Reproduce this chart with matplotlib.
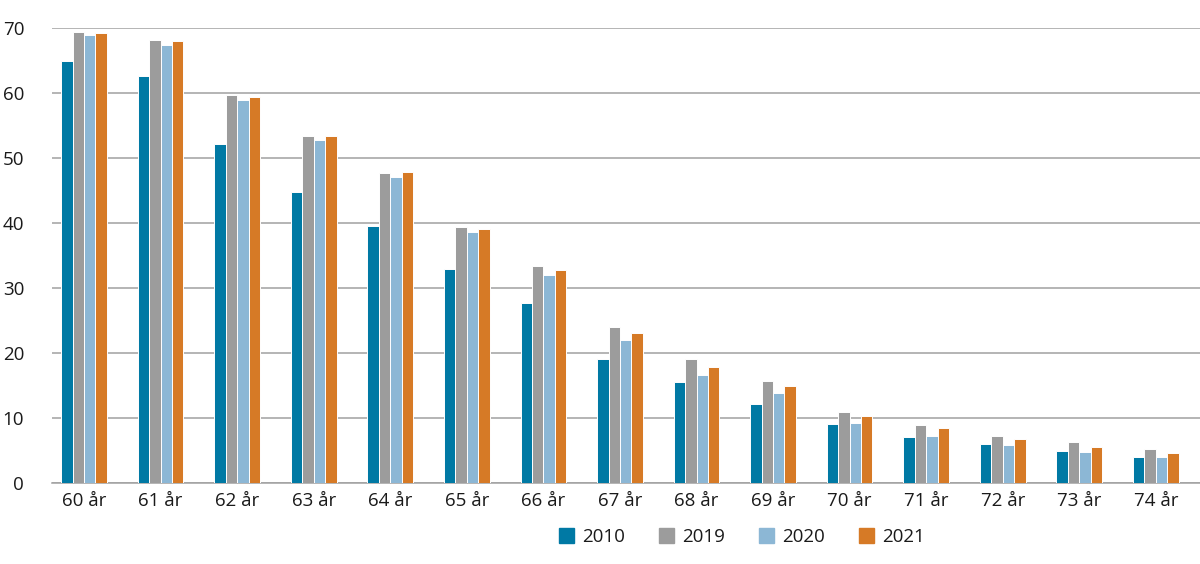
import matplotlib
matplotlib.use("Agg")
import matplotlib.pyplot as plt
import numpy as np

categories = ["60 år", "61 år", "62 år", "63 år", "64 år", "65 år", "66 år", "67 år",
              "68 år", "69 år", "70 år", "71 år", "72 år", "73 år", "74 år"]
series_names = ["2010", "2019", "2020", "2021"]
v2010 = [64.9, 62.6, 52.2, 44.8, 39.6, 32.9, 27.7, 19.2, 15.6, 12.2, 9.1, 7.1, 6.05, 4.9, 4.1]
v2019 = [69.4, 68.2, 59.8, 53.4, 47.7, 39.4, 33.4, 24.1, 19.2, 15.7, 11.0, 8.9, 7.3, 6.4, 5.3]
v2020 = [69.0, 67.5, 59.0, 52.8, 47.1, 38.6, 32.1, 22.0, 16.7, 13.9, 9.3, 7.3, 5.9, 4.8, 4.1]
v2021 = [69.3, 68.0, 59.5, 53.4, 47.9, 39.1, 32.8, 23.2, 17.9, 14.9, 10.35, 8.5, 6.8, 5.6, 4.6]
yticks = [0, 10, 20, 30, 40, 50, 60, 70]

colors = ["#0079a4", "#9c9c9c", "#8cb7d5", "#d67a26"]

plt.rcParams['font.family'] = ['Open Sans', 'DejaVu Sans']

fig = plt.figure(figsize=(12, 5.64), dpi=100)
ax = fig.add_axes([52 / 1200, 1 - 483.3 / 564, (1200 - 52) / 1200, (483.3 - 28.3) / 564])

x = np.arange(len(categories))
w = 0.149
all_vals = [v2010, v2019, v2020, v2021]
for i, (vals, name, c) in enumerate(zip(all_vals, series_names, colors)):
    ax.bar(x + (i - 1.5) * w, vals, width=w, color=c, edgecolor="white",
           linewidth=0.7, label=name, zorder=3)

ax.set_xlim(-0.419, 14.577)
ax.set_ylim(0, 70)
ax.set_yticks(yticks)
ax.set_xticks(x)
ax.set_xticklabels(categories)
ax.yaxis.grid(True, color="#a0a0a0", linewidth=1.1, zorder=0)
ax.set_axisbelow(True)
for s in ["left", "right", "top"]:
    ax.spines[s].set_visible(False)
ax.spines["bottom"].set_color("#a0a0a0")
ax.spines["bottom"].set_linewidth(1.1)
ax.tick_params(axis="both", length=0, labelsize=13.5, colors="#1a1a1a")
ax.tick_params(axis="y", pad=20)
ax.tick_params(axis="x", pad=6)

handles = [plt.Rectangle((0, 0), 1, 1, color=c) for c in colors]
fig.legend(handles, series_names, loc="center", bbox_to_anchor=(742 / 1200, 1 - 537 / 564),
           ncol=4, frameon=False, fontsize=13.5, handlelength=0.8, handleheight=0.8,
           columnspacing=1.85, handletextpad=0.4, labelcolor="#1a1a1a")

fig.savefig("out.png", dpi=100)
